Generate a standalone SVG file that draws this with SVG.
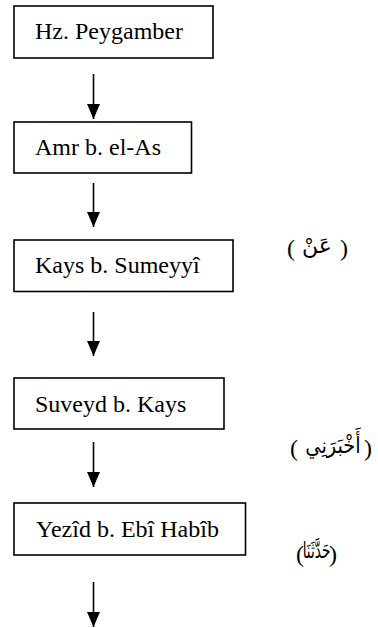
<svg xmlns="http://www.w3.org/2000/svg" width="378" height="628" viewBox="0 0 378 628">
<defs>
<style>
.box{fill:#fff;stroke:#000;stroke-width:1.6}
.t{font-family:'Liberation Serif','Times New Roman',serif;font-size:24px;fill:#000}
.ar{font-family:'Liberation Serif','DejaVu Sans',serif;font-size:24px;fill:#000}
.aw{font-family:'DejaVu Sans',sans-serif;font-size:22px;fill:#000;text-anchor:middle}
.ln{stroke:#000;stroke-width:1.6;fill:none}
</style>
<marker id="ah" markerUnits="userSpaceOnUse" markerWidth="14" markerHeight="17" refX="15" refY="6.5" orient="auto">
<path d="M0,0 L15,6.5 L0,13 Z" fill="#000"/>
</marker>
</defs>
<rect width="378" height="628" fill="#fff"/>
<g id="n1"><rect class="box" x="14" y="6" width="199" height="52"/><text class="t" x="35" y="39">Hz. Peygamber</text></g>
<g id="n2"><rect class="box" x="14" y="122" width="177.5" height="51"/><text class="t" x="35" y="155">Amr b. el-As</text></g>
<g id="n3"><rect class="box" x="14" y="240" width="219" height="51.5"/><text class="t" x="35" y="273">Kays b. Sumeyyî</text></g>
<g id="n4"><rect class="box" x="14" y="378" width="210" height="51"/><text class="t" x="35" y="412">Suveyd b. Kays</text></g>
<g id="n5"><rect class="box" x="14" y="503" width="231.5" height="52"/><text class="t" x="36" y="537">Yezîd b. Ebî Habîb</text></g>
<g id="labels">
<text class="ar" x="287" y="256">(</text><text class="aw" transform="translate(317,253)">عَنْ</text><text class="ar" x="348" y="256" text-anchor="end">)</text>
<text class="ar" x="290" y="456">(</text><text class="aw" transform="translate(333,453) scale(0.88,1)">أَخْبَرَنِي</text><text class="ar" x="372" y="456" text-anchor="end">)</text>
<text class="ar" x="296" y="562">(</text><text class="aw" transform="translate(316.5,558) scale(0.62,1)">حَدَّثَنَا</text><text class="ar" x="337" y="562" text-anchor="end">)</text>
</g>
<g id="connectors">
<line class="ln" x1="93.5" y1="74" x2="93.5" y2="119" marker-end="url(#ah)"/>
<line class="ln" x1="93.5" y1="183" x2="93.5" y2="227" marker-end="url(#ah)"/>
<line class="ln" x1="93.5" y1="312" x2="93.5" y2="356" marker-end="url(#ah)"/>
<line class="ln" x1="93.5" y1="442" x2="93.5" y2="487" marker-end="url(#ah)"/>
<line class="ln" x1="93.5" y1="582" x2="93.5" y2="627" marker-end="url(#ah)"/>
</g>
</svg>
